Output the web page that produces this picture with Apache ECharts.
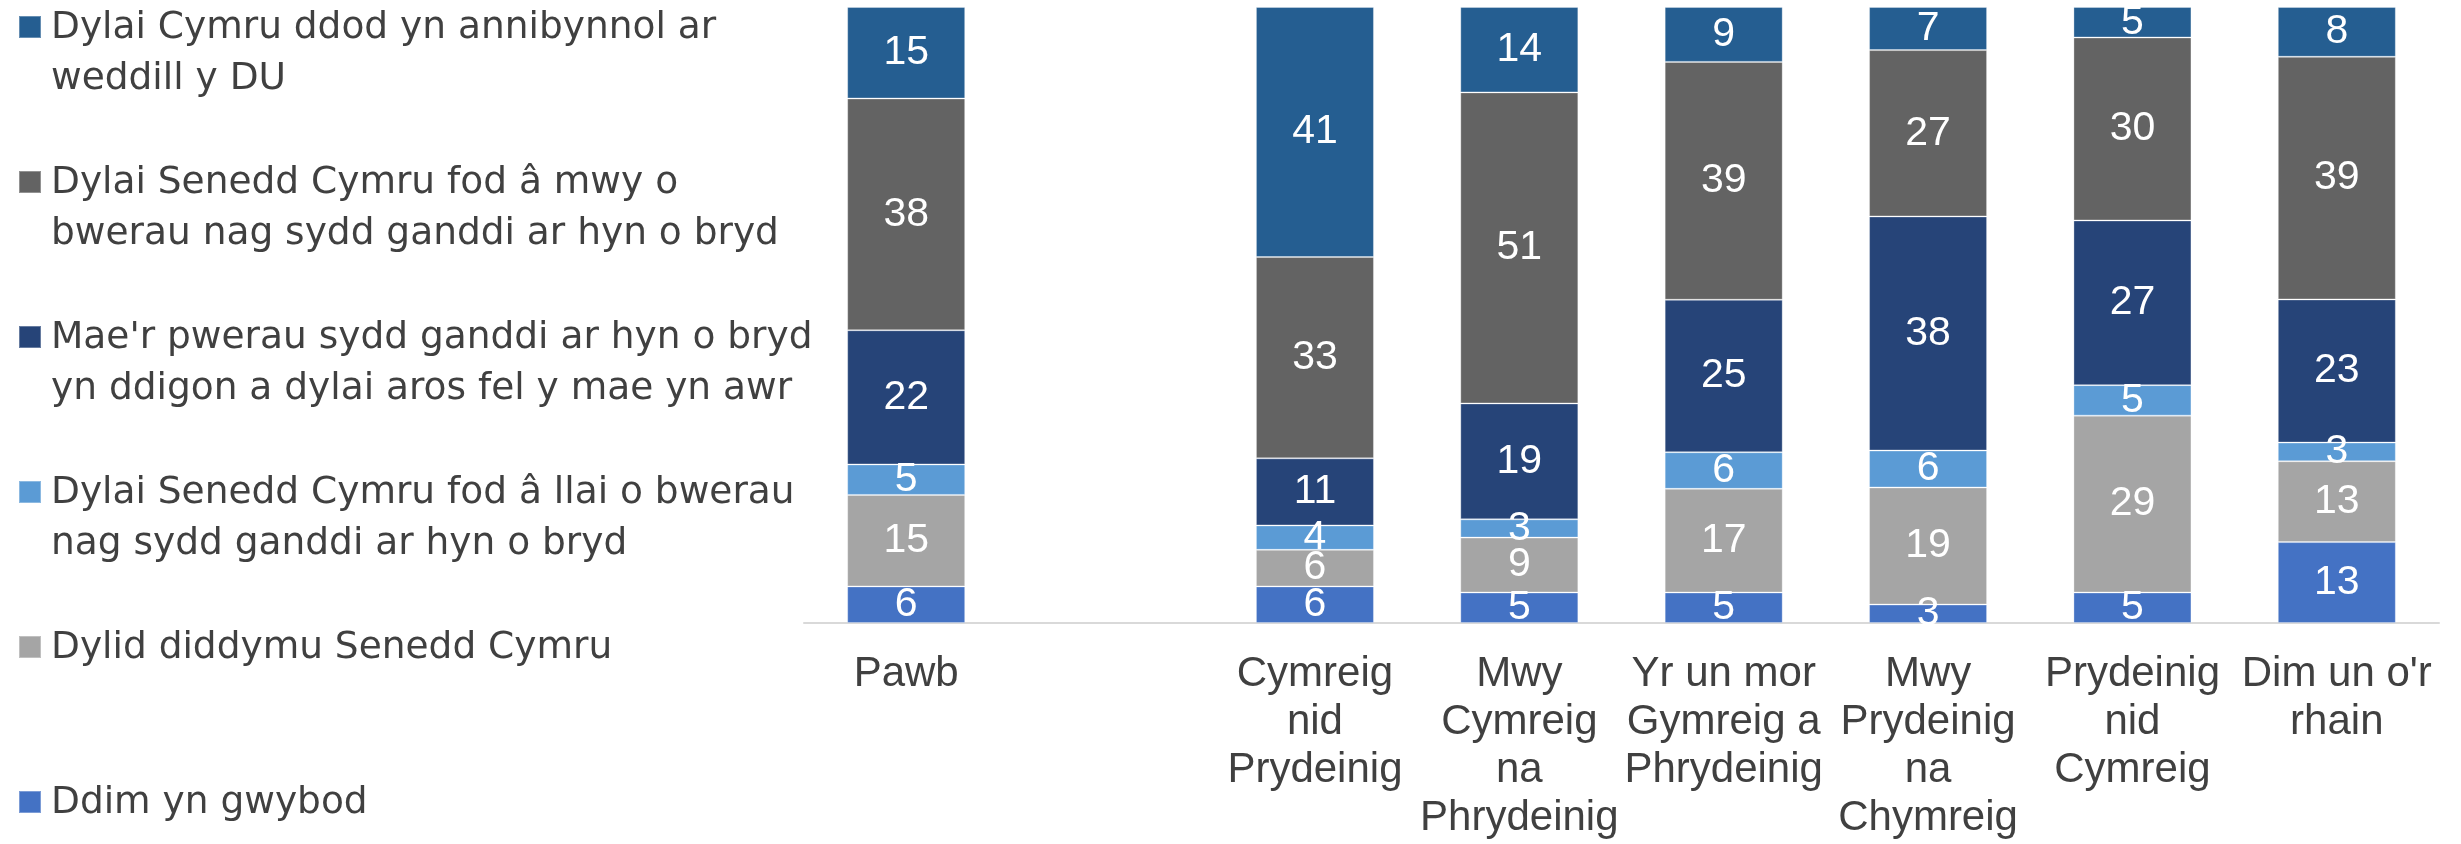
<!DOCTYPE html>
<html>
<head>
<meta charset="utf-8">
<script src="https://cdn.jsdelivr.net/npm/echarts@6/dist/echarts.min.js"></script>
<style>
html, body { margin: 0; padding: 0; background: #ffffff; }
#chart { width: 2461px; height: 844px; }
</style>
</head>
<body>
<div id="chart"></div>
<script>
// Categories (tick labels); the blank one is the gap after "Pawb"
const categories = [
  'Pawb',
  '',
  'Cymreig\nnid\nPrydeinig',
  'Mwy\nCymreig\nna\nPhrydeinig',
  'Yr un mor\nGymreig a\nPhrydeinig',
  'Mwy\nPrydeinig\nna\nChymreig',
  'Prydeinig\nnid\nCymreig',
  "Dim un o'r\nrhain"
];

// Series names (bottom of stack first)
const nameDdim = 'Ddim yn gwybod';
const nameDiddymu = 'Dylid diddymu Senedd Cymru';
const nameLlai = 'Dylai Senedd Cymru fod â llai o bwerau nag sydd ganddi ar hyn o bryd';
const nameAros = "Mae'r pwerau sydd ganddi ar hyn o bryd yn ddigon a dylai aros fel y mae yn awr";
const nameMwy = 'Dylai Senedd Cymru fod â mwy o bwerau nag sydd ganddi ar hyn o bryd';
const nameAnnibynnol = 'Dylai Cymru ddod yn annibynnol ar weddill y DU';

// Values (percent, per category; null for the blank gap category)
const valuesDdim        = [6,  null, 6,  5,  5,  3,  5,  13];
const valuesDiddymu     = [15, null, 6,  9,  17, 19, 29, 13];
const valuesLlai        = [5,  null, 4,  3,  6,  6,  5,  3];
const valuesAros        = [22, null, 11, 19, 25, 38, 27, 23];
const valuesMwy         = [38, null, 33, 51, 39, 27, 30, 39];
const valuesAnnibynnol  = [15, null, 41, 14, 9,  7,  5,  8];

// Legend labels as wrapped in the reference
const legendLabels = {};
legendLabels[nameAnnibynnol] = 'Dylai Cymru ddod yn annibynnol ar\nweddill y DU';
legendLabels[nameMwy] = 'Dylai Senedd Cymru fod â mwy o\nbwerau nag sydd ganddi ar hyn o bryd';
legendLabels[nameAros] = "Mae'r pwerau sydd ganddi ar hyn o bryd\nyn ddigon a dylai aros fel y mae yn awr";
legendLabels[nameLlai] = 'Dylai Senedd Cymru fod â llai o bwerau\nnag sydd ganddi ar hyn o bryd';
legendLabels[nameDiddymu] = 'Dylid diddymu Senedd Cymru';
legendLabels[nameDdim] = 'Ddim yn gwybod';

const seriesDefs = [
  { name: nameDdim, values: valuesDdim, color: '#4472C4' },
  { name: nameDiddymu, values: valuesDiddymu, color: '#A5A5A5' },
  { name: nameLlai, values: valuesLlai, color: '#5B9BD5' },
  { name: nameAros, values: valuesAros, color: '#264478' },
  { name: nameMwy, values: valuesMwy, color: '#636363' },
  { name: nameAnnibynnol, values: valuesAnnibynnol, color: '#255E91' }
];

// 100% stacked: totals per category
const totals = categories.map((c, i) =>
  seriesDefs.reduce((s, d) => s + (d.values[i] == null ? 0 : d.values[i]), 0));

const legendOrder = [nameAnnibynnol, nameMwy, nameAros, nameLlai, nameDiddymu, nameDdim];

// Legend marker: a 22px square aligned with the first text line of a two-line slot
const legendIcon = 'path://M0,0h0.01v0.01h-0.01Z M0,13h22v22h-22Z M26.99,101.99h0.01v0.01h-0.01Z';

const chart = echarts.init(document.getElementById('chart'), null, { renderer: 'canvas' });

const option = {
  animation: false,
  backgroundColor: '#ffffff',
  grid: { left: 804, right: 22, top: 7, bottom: 221, containLabel: false },
  legend: {
    orient: 'vertical',
    left: 18,
    top: 2,
    height: 1200,
    padding: 0,
    itemWidth: 27,
    itemHeight: 102,
    itemGap: 51,
    selectedMode: false,
    textStyle: {
      fontFamily: 'DejaVu Sans',
      fontSize: 37.5,
      lineHeight: 51,
      color: '#404040'
    },
    formatter: (name) => {
      const t = legendLabels[name];
      return t.indexOf('\n') >= 0 ? t : t + '\n ';
    },
    data: legendOrder.map(n => ({ name: n, icon: legendIcon }))
  },
  xAxis: {
    type: 'category',
    data: categories,
    axisTick: { show: false },
    axisLine: { show: true, lineStyle: { color: '#D9D9D9', width: 2 } },
    axisLabel: {
      interval: 0,
      margin: 27,
      color: '#404040',
      fontFamily: 'Liberation Sans, Arial, sans-serif',
      fontSize: 42,
      lineHeight: 48,
      align: 'center'
    }
  },
  yAxis: {
    type: 'value',
    min: 0,
    max: 100,
    show: false,
    splitLine: { show: false }
  },
  series: seriesDefs.map(d => ({
    name: d.name,
    type: 'bar',
    stack: 'total',
    barWidth: 118,
    itemStyle: { color: d.color, borderColor: 'rgba(255,255,255,0.3)', borderWidth: 1 },
    label: {
      show: true,
      position: 'inside',
      color: '#ffffff',
      fontFamily: 'Liberation Sans, Arial, sans-serif',
      fontSize: 41,
      formatter: (p) => (p.data && p.data.raw != null ? String(p.data.raw) : '')
    },
    data: d.values.map((v, i) => v == null ? { value: null, raw: null } : { value: v / totals[i] * 100, raw: v })
  }))
};

chart.setOption(option);
</script>
</body>
</html>
